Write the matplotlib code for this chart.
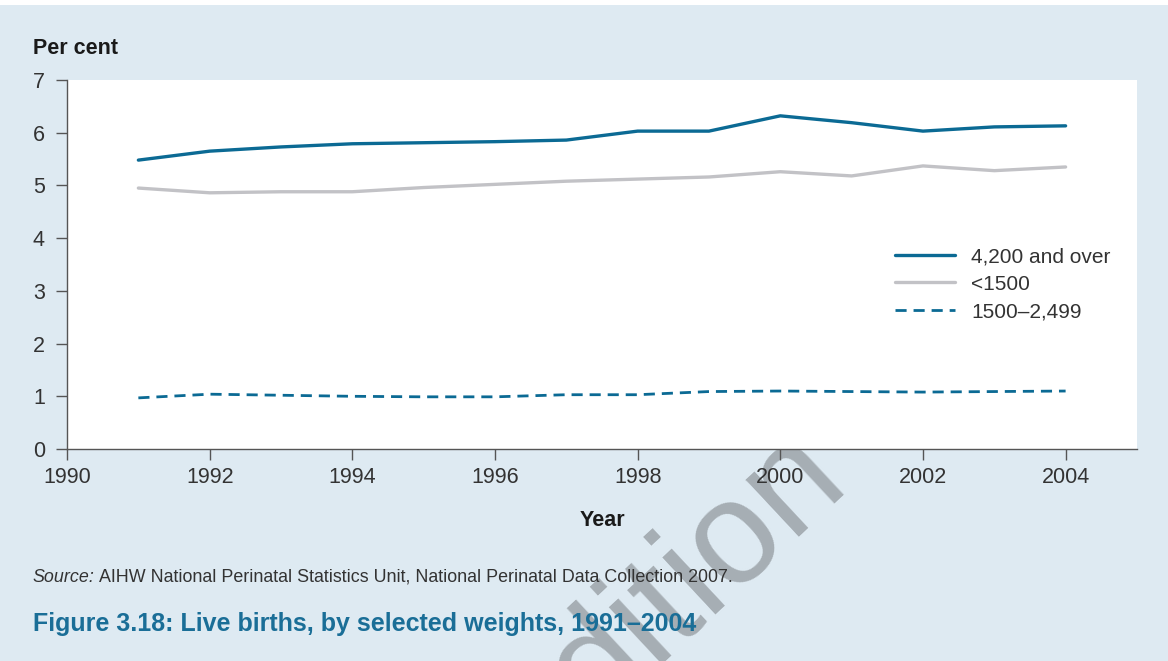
import numpy as np
import matplotlib.pyplot as plt
from matplotlib.transforms import offset_copy

years = list(range(1991, 2005))
over_4200 = [5.48, 5.65, 5.73, 5.79, 5.81, 5.83, 5.86, 6.03, 6.03, 6.32, 6.19, 6.03, 6.11, 6.13]
under_1500 = [4.95, 4.86, 4.88, 4.88, 4.96, 5.02, 5.08, 5.12, 5.16, 5.26, 5.18, 5.37, 5.28, 5.35]
w1500_2499 = [0.97, 1.04, 1.02, 1.00, 0.99, 0.99, 1.03, 1.03, 1.09, 1.10, 1.09, 1.08, 1.09, 1.10]

labels = ['4,200 and over', '<1500', '1500\u20132,499']
xticks = list(range(1990, 2005, 2))

blue = '#0b6a94'
grey = '#c2c2c6'
bg = '#deeaf2'

plt.rcParams['font.family'] = ['Liberation Sans', 'DejaVu Sans']

fig = plt.figure(figsize=(11.68, 6.61), dpi=100)
fig.patch.set_facecolor('white')
# light blue panel behind everything
fig.patches.append(plt.Rectangle((0, 0), 1.0, 0.993, transform=fig.transFigure,
                                 facecolor=bg, edgecolor='none', zorder=-10))

# watermark sits under the axes and texts but over the panel
fig.text(697 / 1168, 1 - 574 / 661, 'dition', fontsize=105, color='#a6aeb4', rotation=43,
         rotation_mode='anchor', ha='center', va='center', zorder=-5)

ax = fig.add_axes([0.0574, 0.3207, 0.916, 0.5583])
ax.set_facecolor('white')

ax.plot(years, over_4200, color=blue, lw=2.4, label=labels[0], solid_capstyle='round')
ax.plot(years, under_1500, color=grey, lw=2.4, label=labels[1], solid_capstyle='round')
ax.plot(years, w1500_2499, color=blue, lw=2.0, ls=(0, (4, 2.5)), label=labels[2])

ax.set_xlim(1990, 2005)
ax.set_ylim(0, 7)
ax.set_xticks(xticks)
ax.set_yticks(range(0, 8))

for s in ['top', 'right']:
    ax.spines[s].set_visible(False)
for s in ['left', 'bottom']:
    ax.spines[s].set_color('#555555')
    ax.spines[s].set_linewidth(1.0)

ax.tick_params(axis='both', colors='#555555', labelcolor='#333333', labelsize=15.5,
               length=8, width=1.0)
ax.tick_params(axis='y', pad=8)
ax.tick_params(axis='x', pad=5)

ax.set_xlabel('Year', fontsize=15.5, fontweight='bold', color='#1a1a1a', labelpad=16)
fig.text(0.028, 0.918, 'Per cent', fontsize=15.5, fontweight='bold', color='#1a1a1a')

leg = ax.legend(loc='upper left', bbox_to_anchor=(0.756, 0.597), frameon=False,
                fontsize=15, handlelength=2.9, handletextpad=0.77, labelspacing=0.4)
for t in leg.get_texts():
    t.set_color('#333333')

src = fig.text(0.028, 0.12, 'Source:', fontsize=12.9, style='italic', color='#333333')
fig.canvas.draw()
w = src.get_window_extent().width
fig.text(0.028, 0.12, ' AIHW National Perinatal Statistics Unit, National Perinatal Data Collection 2007.',
         fontsize=12.9, color='#333333',
         transform=offset_copy(fig.transFigure, fig=fig, x=w, y=0, units='dots'))
fig.text(0.028, 0.045, 'Figure 3.18: Live births, by selected weights, 1991\u20132004',
         fontsize=18, fontweight='bold', color='#1a6e97')

fig.savefig('out.png', dpi=100, facecolor=fig.get_facecolor())
